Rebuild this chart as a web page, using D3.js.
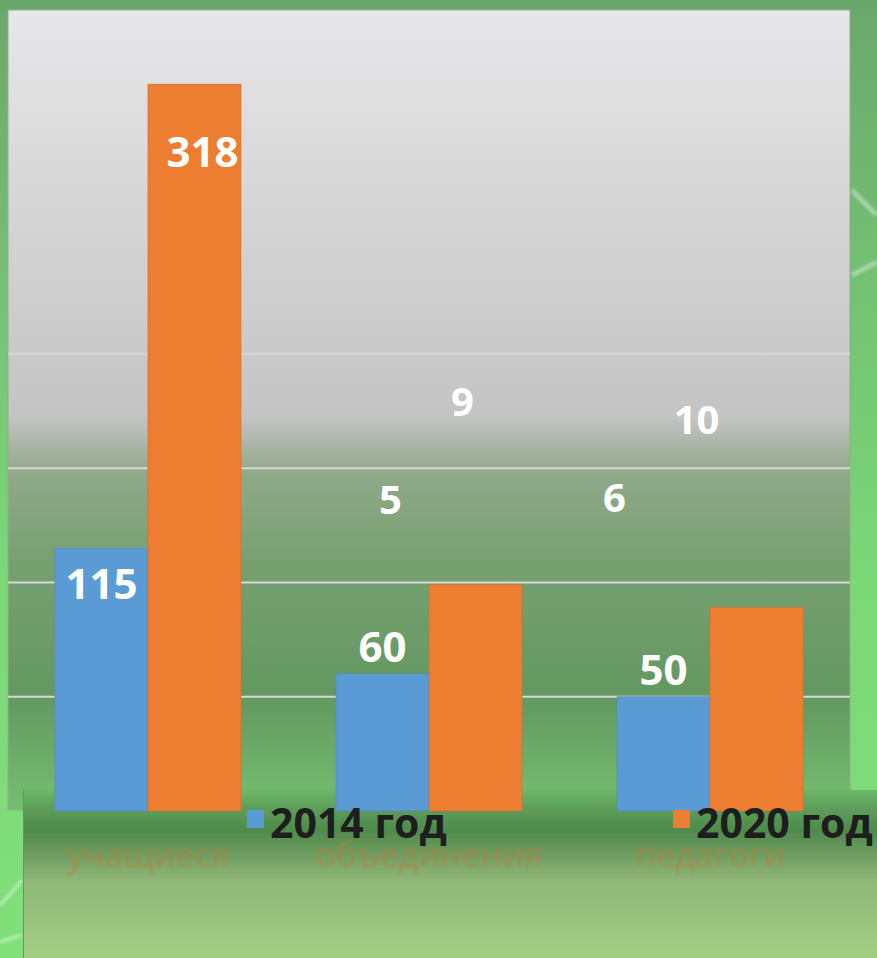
<!DOCTYPE html>
<html>
<head>
<meta charset="utf-8">
<script src="https://cdn.jsdelivr.net/npm/d3@7"></script>
<style>
  html, body { margin: 0; padding: 0; background: #74c073; }
  #chart { width: 877px; height: 958px; }
</style>
</head>
<body>
<div id="chart"></div>
<script>
// Data
const categories = ['учащиеся', 'объединения', 'педагоги'];
const values2014 = [115, 60, 50];
const values2020 = [318, 99, 89];
const labels2014 = ['115', '60', '50'];
const labels2020 = ['318', '', ''];
const gridTicks = [50, 100, 150, 200];
const seriesNames = ['2014 год', '2020 год'];
// loose data labels left floating on the chart (value = height where they sit)
const floatLabels = [
    {cat: 'объединения', series: 0, text: '5', value: 136},
    {cat: 'объединения', series: 1, text: '9', value: 179},
    {cat: 'педагоги', series: 0, text: '6', value: 137},
    {cat: 'педагоги', series: 1, text: '10', value: 171}
];

const W = 877, H = 958;
const blue = '#5b9bd5', orange = '#ed7d31';

const svg = d3.select('#chart')
    .append('svg')
    .attr('width', W)
    .attr('height', H);

const defs = svg.append('defs');

// background gradients
const bgGrad = defs.append('linearGradient').attr('id', 'bg')
    .attr('x1', 0).attr('y1', 0).attr('x2', 0).attr('y2', 1);
[[0, '#6aa76b'], [0.3, '#74c273'], [0.6, '#7ad877'], [1, '#80e07a']]
    .forEach(s => bgGrad.append('stop').attr('offset', s[0]).attr('stop-color', s[1]));

const panelGrad = defs.append('linearGradient').attr('id', 'panel')
    .attr('x1', 0).attr('y1', 0).attr('x2', 0).attr('y2', 1);
[[0, '#e7e6e8'], [0.4, '#cbcbcb'], [0.51, '#c3c4c3'], [0.545, '#a9b4a5'],
 [0.58, '#8fa989'], [0.69, '#77a071'], [0.86, '#639860'], [0.975, '#72b96e'], [1, '#74bd70']]
    .forEach(s => panelGrad.append('stop').attr('offset', s[0]).attr('stop-color', s[1]));

const boxGrad = defs.append('linearGradient').attr('id', 'box')
    .attr('x1', 0).attr('y1', 0).attr('x2', 0).attr('y2', 1);
[[0, '#6cb868'], [0.1, '#5e9f5a'], [0.24, '#4f8a4b'], [0.38, '#6e9c60'],
 [0.54, '#8fb777'], [1, '#a4cd84']]
    .forEach(s => boxGrad.append('stop').attr('offset', s[0]).attr('stop-color', s[1]));

defs.append('filter').attr('id', 'soft')
    .append('feGaussianBlur').attr('stdDeviation', 1.2);

svg.append('rect').attr('width', W).attr('height', H).attr('fill', 'url(#bg)');

// a couple of light streaks on the backdrop
svg.append('path')
    .attr('d', 'M852,190 Q866,205 877,215 M852,275 Q866,268 877,262')
    .attr('stroke', 'white').attr('stroke-opacity', 0.35)
    .attr('stroke-width', 5).attr('fill', 'none').attr('filter', 'url(#soft)');
svg.append('path')
    .attr('d', 'M0,905 Q10,895 22,880 M0,942 Q12,938 22,935')
    .attr('stroke', 'white').attr('stroke-opacity', 0.35)
    .attr('stroke-width', 4).attr('fill', 'none').attr('filter', 'url(#soft)');

// plot panel
svg.append('rect')
    .attr('x', 8).attr('y', 10).attr('width', 842).attr('height', 800)
    .attr('fill', 'url(#panel)')
    .attr('stroke', '#8fae8c').attr('stroke-width', 1);

// scales
const x = d3.scaleBand()
    .domain(categories)
    .range([8, 850])
    .paddingInner(0.338)
    .paddingOuter(0.167);

const x1 = d3.scaleBand()
    .domain([0, 1])
    .range([0, x.bandwidth()]);

const y = d3.scaleLinear()
    .domain([0, 350])
    .range([811, 11]);

// gridlines
svg.append('g')
    .selectAll('line')
    .data(gridTicks)
    .enter()
    .append('line')
    .attr('x1', 8).attr('x2', 850)
    .attr('y1', d => y(d)).attr('y2', d => y(d))
    .attr('stroke', '#d6d8d5')
    .attr('stroke-width', 2);

// lower box behind the category labels
svg.append('rect')
    .attr('x', 23).attr('y', 790).attr('width', W - 23).attr('height', H - 790)
    .attr('fill', 'url(#box)');
svg.append('line')
    .attr('x1', 23.5).attr('x2', 23.5).attr('y1', 790).attr('y2', H)
    .attr('stroke', '#5f9a5c').attr('stroke-width', 1);

// bars
const series = [values2014, values2020];
const colors = [blue, orange];
series.forEach((vals, si) => {
    svg.append('g')
        .selectAll('rect')
        .data(vals)
        .enter()
        .append('rect')
        .attr('x', (d, i) => x(categories[i]) + x1(si))
        .attr('y', d => y(d))
        .attr('width', x1.bandwidth())
        .attr('height', d => y(0) - y(d))
        .attr('fill', colors[si])
        .attr('stroke', d3.color(colors[si]).darker(0.3))
        .attr('stroke-width', 0.6);
});

const labelFont = "'Open Sans', 'DejaVu Sans', sans-serif";

// bar value labels
const barLabels = [labels2014, labels2020];
barLabels.forEach((labs, si) => {
    svg.append('g')
        .selectAll('text')
        .data(labs)
        .enter()
        .append('text')
        .attr('x', (d, i) => x(categories[i]) + x1(si) + x1.bandwidth() / 2 + (si === 1 ? 8 : 0))
        .attr('y', (d, i) => {
            const v = series[si][i];
            if (v > 100) return y(v) + (si === 1 ? 83 : 51);
            return y(v) - 12;
        })
        .attr('text-anchor', 'middle')
        .attr('font-family', labelFont)
        .attr('font-weight', 700)
        .attr('font-size', 42)
        .attr('fill', 'white')
        .text(d => d);
});

// floating labels
const floatShift = {'объединения': [8, -13], 'педагоги': [-49, -60]};
svg.append('g')
    .selectAll('text')
    .data(floatLabels)
    .enter()
    .append('text')
    .attr('x', d => x(d.cat) + x1(d.series) + x1.bandwidth() / 2 + floatShift[d.cat][d.series])
    .attr('y', d => y(d.value) + 14)
    .attr('text-anchor', 'middle')
    .attr('font-family', labelFont)
    .attr('font-weight', 700)
    .attr('font-size', 40)
    .attr('fill', 'white')
    .text(d => d.text);

// category labels (faded)
svg.append('g')
    .attr('filter', 'url(#soft)')
    .selectAll('text')
    .data(categories)
    .enter()
    .append('text')
    .attr('x', d => x(d) + x.bandwidth() / 2)
    .attr('y', 867)
    .attr('text-anchor', 'middle')
    .attr('font-family', labelFont)
    .attr('font-size', 34)
    .attr('fill', '#c27a36')
    .attr('fill-opacity', 0.5)
    .text(d => d);

// legend
const legendX = [247, 673];
const legend = svg.append('g')
    .selectAll('g')
    .data(seriesNames)
    .enter()
    .append('g')
    .attr('transform', (d, i) => `translate(${legendX[i]},810)`);

legend.append('rect')
    .attr('width', 17).attr('height', 18)
    .attr('fill', (d, i) => colors[i]);

legend.append('text')
    .attr('x', 23)
    .attr('y', 28)
    .attr('font-family', labelFont)
    .attr('font-weight', 700)
    .attr('font-size', 41)
    .attr('fill', '#1e1e1e')
    .text(d => d);
</script>
</body>
</html>
